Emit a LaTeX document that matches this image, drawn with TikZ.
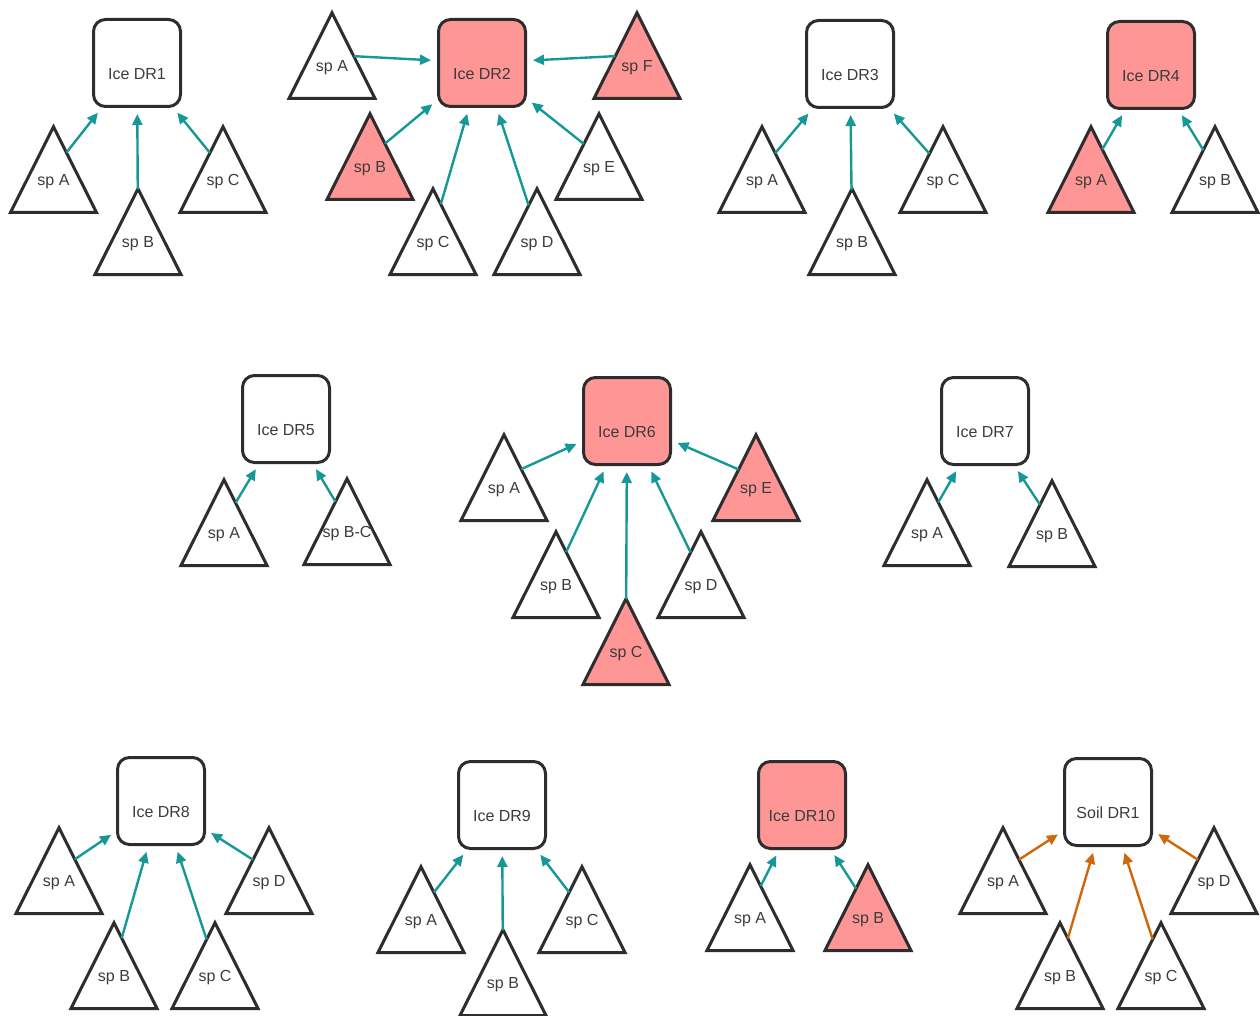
\documentclass[tikz,border=0pt]{standalone}
\usepackage{fontspec}
\setmainfont{Liberation Sans}
\usetikzlibrary{arrows.meta,intersections}
\definecolor{edgegray}{RGB}{45,45,45}
\definecolor{txtgray}{RGB}{60,60,60}
\definecolor{pinkfill}{RGB}{255,150,150}
\definecolor{tealc}{RGB}{22,152,152}
\definecolor{orangec}{RGB}{206,104,10}
\tikzset{
  dr/.style={draw=edgegray, line width=3pt, rounded corners=12pt, minimum width=87pt, minimum height=87pt, inner sep=0pt, fill=white},
  tri/.style={draw=edgegray, line width=3pt, fill=white},
  lbl/.style={text=txtgray, font=\fontsize{16}{18}\selectfont, inner sep=0pt},
  hot/.style={fill=pinkfill},
  link/.style={draw=tealc, line width=2.4pt, -{Triangle[length=11pt,width=10pt]}, shorten >=6pt},
  soil/.style={draw=orangec, line width=2.4pt, -{Triangle[length=11pt,width=10pt]}, shorten >=6pt},
}
% triangle: name, apex x, top y, label, extra style
\newcommand\sptri[5]{%
  \draw[tri,#5,name path=#1p] (#2,#3+2.8) -- ++(43,85.7) -- ++(-86,0) -- cycle;
  \coordinate (#1c) at (#2,#3+45);
  \node[lbl] (#1l) at (#2,#3+58) {#4};
}
% box: name, center x, center y, label, extra style
\newcommand\drbox[5]{%
  \node[dr,#5] (#1) at (#2,#3) {};
  \node[lbl] (#1l) at (#2,#3+11) {#4};
}
% connector: triangle name, box name, style
\newcommand\conn[3]{%
  \path[name path=lnk] (#1c) -- (#2.center);
  \path[name intersections={of=lnk and #1p, by=#1x}];
  \draw[#3] (#1x) -- (#2);
}
\begin{document}
\begin{tikzpicture}[x=1pt,y=-1pt]
\useasboundingbox (0,0) rectangle (1260,1016);
% ---------- Ice DR1
\drbox{b1}{137}{63}{Ice DR1}{}
\sptri{b1a}{53.5}{124}{sp A}{}
\sptri{b1b}{138}{186}{sp B}{}
\sptri{b1c}{223}{124}{sp C}{}
\foreach \s in {a,b,c} {\conn{b1\s}{b1}{link}}
% ---------- Ice DR2
\drbox{b2}{482}{63}{Ice DR2}{hot}
\sptri{b2a}{332}{10}{sp A}{}
\sptri{b2f}{637}{10}{sp F}{hot}
\sptri{b2b}{370}{111}{sp B}{hot}
\sptri{b2c}{433}{186}{sp C}{}
\sptri{b2d}{537}{186}{sp D}{}
\sptri{b2e}{599}{111}{sp E}{}
\foreach \s in {a,b,c,d,e,f} {\conn{b2\s}{b2}{link}}
% ---------- Ice DR3
\drbox{b3}{850}{64}{Ice DR3}{}
\sptri{b3a}{762}{124}{sp A}{}
\sptri{b3b}{852}{186}{sp B}{}
\sptri{b3c}{943}{124}{sp C}{}
\foreach \s in {a,b,c} {\conn{b3\s}{b3}{link}}
% ---------- Ice DR4
\drbox{b4}{1151}{65}{Ice DR4}{hot}
\sptri{b4a}{1091}{124}{sp A}{hot}
\sptri{b4b}{1215}{124}{sp B}{}
\foreach \s in {a,b} {\conn{b4\s}{b4}{link}}
% ---------- Ice DR5
\drbox{b5}{286}{419}{Ice DR5}{}
\sptri{b5a}{224}{477}{sp A}{}
\sptri{b5b}{347}{476}{sp B-C}{}
\foreach \s in {a,b} {\conn{b5\s}{b5}{link}}
% ---------- Ice DR6
\drbox{b6}{627}{421}{Ice DR6}{hot}
\sptri{b6a}{504}{432}{sp A}{}
\sptri{b6e}{756}{432}{sp E}{hot}
\sptri{b6b}{556}{529}{sp B}{}
\sptri{b6d}{701}{529}{sp D}{}
\sptri{b6c}{626}{596}{sp C}{hot}
\foreach \s in {a,b,c,d,e} {\conn{b6\s}{b6}{link}}
% ---------- Ice DR7
\drbox{b7}{985}{421}{Ice DR7}{}
\sptri{b7a}{927}{477}{sp A}{}
\sptri{b7b}{1052}{478}{sp B}{}
\foreach \s in {a,b} {\conn{b7\s}{b7}{link}}
% ---------- Ice DR8
\drbox{b8}{161}{801}{Ice DR8}{}
\sptri{b8a}{59}{825}{sp A}{}
\sptri{b8b}{114}{920}{sp B}{}
\sptri{b8c}{215}{920}{sp C}{}
\sptri{b8d}{269}{825}{sp D}{}
\foreach \s in {a,b,c,d} {\conn{b8\s}{b8}{link}}
% ---------- Ice DR9
\drbox{b9}{502}{805}{Ice DR9}{}
\sptri{b9a}{421}{864}{sp A}{}
\sptri{b9b}{503}{927}{sp B}{}
\sptri{b9c}{582}{864}{sp C}{}
\foreach \s in {a,b,c} {\conn{b9\s}{b9}{link}}
% ---------- Ice DR10
\drbox{b10}{802}{805}{Ice DR10}{hot}
\sptri{b10a}{750}{862}{sp A}{}
\sptri{b10b}{868}{862}{sp B}{hot}
\foreach \s in {a,b} {\conn{b10\s}{b10}{link}}
% ---------- Soil DR1
\drbox{s1}{1108}{802}{Soil DR1}{}
\sptri{s1a}{1003}{825}{sp A}{}
\sptri{s1b}{1060}{920}{sp B}{}
\sptri{s1c}{1161}{920}{sp C}{}
\sptri{s1d}{1214}{825}{sp D}{}
\foreach \s in {a,b,c,d} {\conn{s1\s}{s1}{soil}}
\end{tikzpicture}
\end{document}
